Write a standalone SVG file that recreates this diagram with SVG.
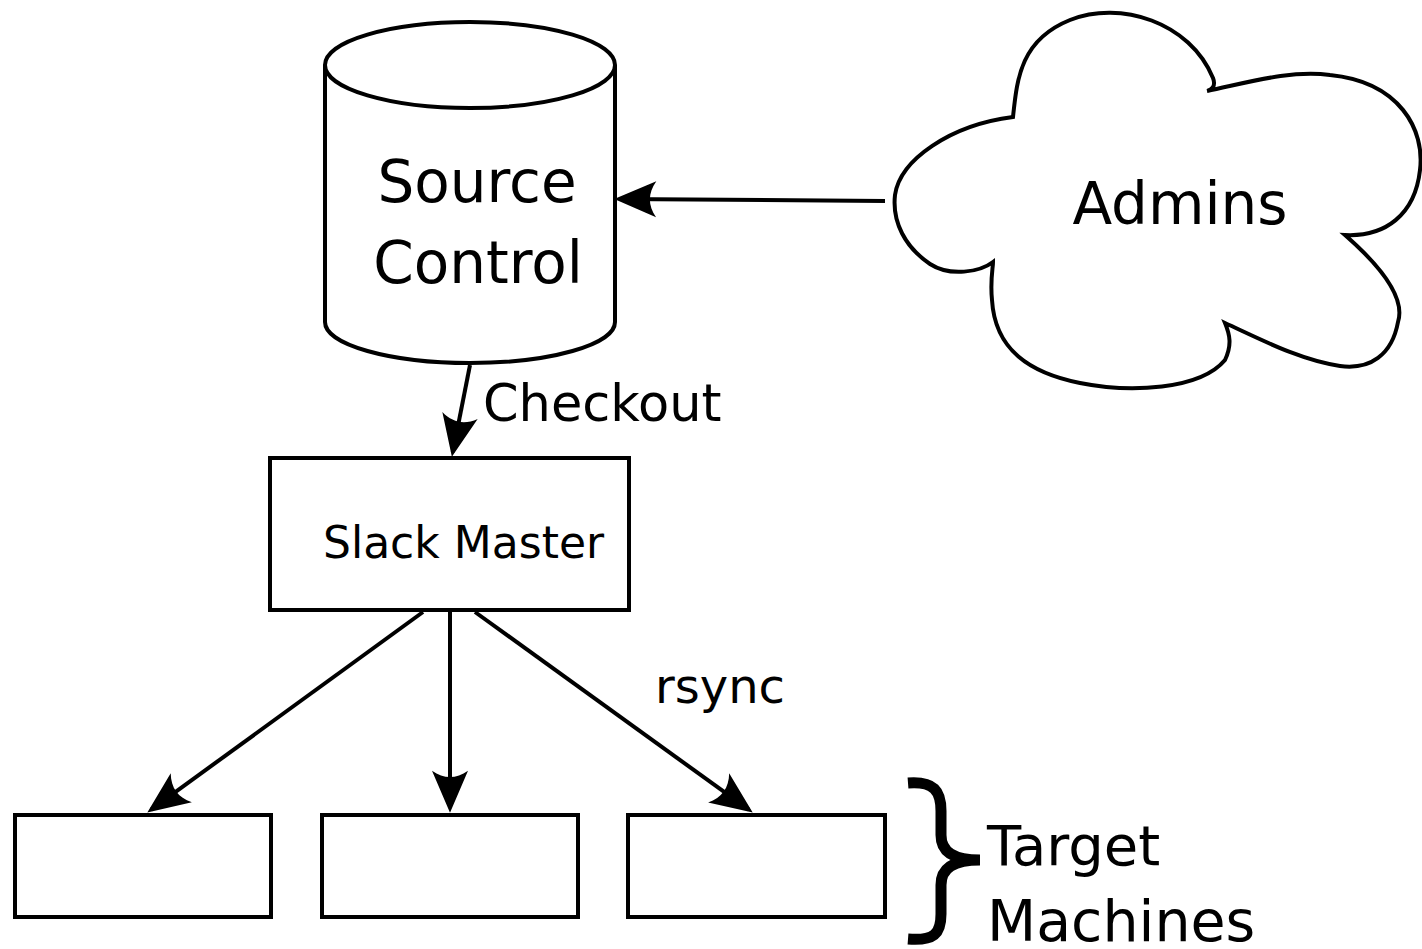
<svg xmlns="http://www.w3.org/2000/svg" width="1422" height="949" viewBox="0 0 1422 949">
<style>
.shape{fill:#fff;stroke:#000;stroke-width:4}
.edge{fill:none;stroke:#000;stroke-width:4}
text{font-family:"DejaVu Sans","Liberation Sans",sans-serif;fill:#000}
</style>
<defs>
<marker id="ah" markerUnits="userSpaceOnUse" markerWidth="60" markerHeight="60" viewBox="-40 -25 50 50" refX="0" refY="0" orient="auto" overflow="visible">
<path d="M4,0 L-31,-15 C-24,-5 -24,5 -31,15 Z" fill="#000"/>
</marker>
</defs>
<rect width="1422" height="949" fill="#fff"/>
<g id="source-control">
<path class="shape" d="M325,65 L325,322 A145,41 0 0 0 615,322 L615,65"/>
<ellipse class="shape" cx="470" cy="65" rx="145" ry="43"/>
<text x="477" y="202" font-size="58" text-anchor="middle">Source</text>
<text x="478" y="283" font-size="58" text-anchor="middle">Control</text>
</g>
<g id="admins">
<path class="shape" d="M1013,117 C1017,80 1020,40 1070,20 C1120,0 1190,22 1213,78 C1216,86 1212,90 1207,91 C1250,82 1290,70 1330,75 C1400,82 1425,130 1420,170 C1415,215 1385,237 1345,235 C1385,270 1405,300 1398,322 C1392,355 1370,370 1340,366 C1300,360 1262,340 1225,323 C1230,335 1232,345 1225,360 C1200,390 1130,393 1080,383 C1030,373 995,350 992,300 C990,280 993,268 993,262 C980,272 950,277 930,264 C905,247 892,222 895,195 C900,160 950,125 1013,117 Z"/>
<text x="1180" y="224" font-size="58" text-anchor="middle">Admins</text>
</g>
<g id="slack-master">
<rect class="shape" x="270" y="458" width="359" height="152"/>
<text x="323" y="558" font-size="44">Slack Master</text>
</g>
<g id="target-1"><rect class="shape" x="15" y="815" width="256" height="102"/></g>
<g id="target-2"><rect class="shape" x="322" y="815" width="256" height="102"/></g>
<g id="target-3"><rect class="shape" x="628" y="815" width="257" height="102"/></g>
<g id="target-machines">
<path d="M908,783 C934,781 941,791 941,811 L941,835 C941,852 954,860 980,860 C954,860 941,868 941,885 L941,914 C941,934 934,941 908,939" fill="none" stroke="#000" stroke-width="11"/>
<text x="987" y="865" font-size="56">Target</text>
<text x="987" y="941" font-size="57">Machines</text>
</g>
<g id="connectors">
<line class="edge" x1="885" y1="201" x2="619" y2="199" marker-end="url(#ah)"/>
<line class="edge" x1="470" y1="365" x2="452.8" y2="452.1" marker-end="url(#ah)"/>
<line class="edge" x1="423" y1="612" x2="151.2" y2="809.6" marker-end="url(#ah)"/>
<line class="edge" x1="450" y1="612" x2="450" y2="808" marker-end="url(#ah)"/>
<line class="edge" x1="475" y1="612" x2="748.8" y2="809.7" marker-end="url(#ah)"/>
<text x="483" y="421" font-size="51">Checkout</text>
<text x="655" y="703" font-size="48">rsync</text>
</g>
</svg>
